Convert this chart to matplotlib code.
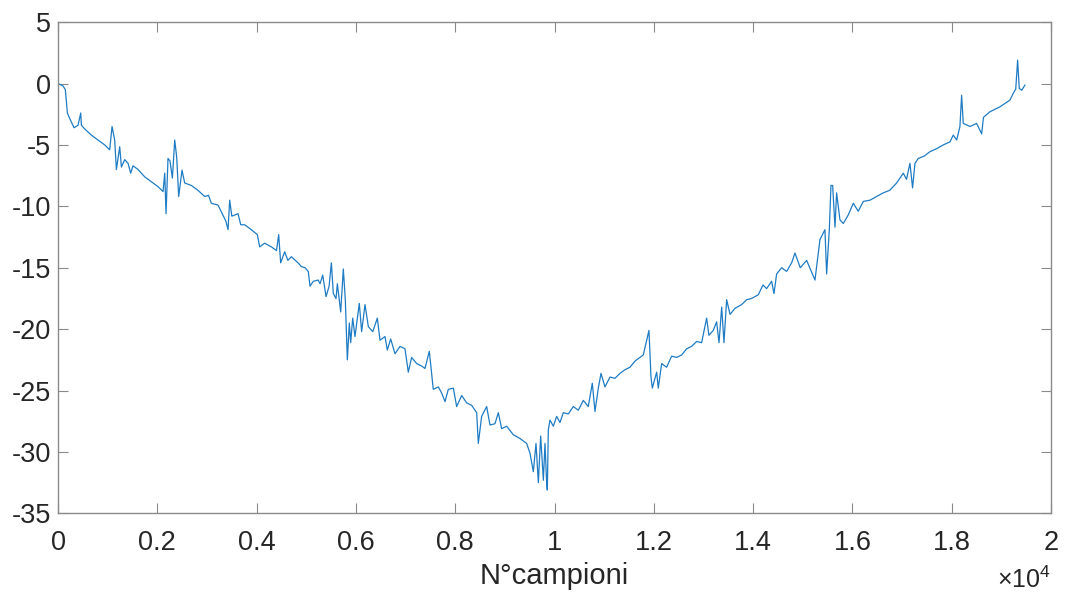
import matplotlib
matplotlib.use("Agg")
import matplotlib.pyplot as plt

# ---- data ----
samples = [0, 100, 147, 188, 235, 322, 403, 457, 470, 537, 671, 806, 940, 1040, 1088, 1141, 1175, 1210,
           1242, 1276, 1343, 1410, 1463, 1510, 1611, 1746, 1880, 2014, 2115, 2149, 2175, 2215, 2255, 2303,
           2350, 2390, 2430, 2497, 2551, 2685, 2820, 2954, 3030, 3088, 3222, 3337, 3380, 3424, 3457, 3500,
           3625, 3680, 3759, 3893, 4014, 4061, 4161, 4296, 4400, 4444, 4484, 4565, 4630, 4699, 4834, 4900,
           4975, 5040, 5075, 5142, 5240, 5277, 5331, 5398, 5460, 5505, 5545, 5599, 5626, 5693, 5746, 5786,
           5827, 5867, 5894, 5935, 5981, 6068, 6115, 6183, 6250, 6340, 6431, 6485, 6585, 6632, 6700, 6787,
           6888, 6988, 7055, 7122, 7223, 7323, 7391, 7478, 7558, 7660, 7727, 7794, 7861, 7962, 8029, 8130,
           8230, 8331, 8432, 8465, 8532, 8633, 8700, 8800, 8868, 8935, 9036, 9170, 9304, 9439, 9506, 9573,
           9627, 9674, 9721, 9775, 9808, 9841, 9855, 9875, 9909, 9976, 10043, 10110, 10177, 10278, 10378,
           10479, 10580, 10680, 10761, 10815, 10882, 10936, 11016, 11117, 11218, 11318, 11419, 11520, 11621,
           11721, 11788, 11856, 11902, 11943, 11970, 12057, 12090, 12158, 12258, 12359, 12460, 12560, 12661,
           12762, 12862, 12963, 13064, 13110, 13198, 13265, 13313, 13367, 13413, 13467, 13535, 13635, 13769,
           13870, 13970, 14104, 14200, 14272, 14373, 14420, 14474, 14575, 14675, 14776, 14843, 14950, 15078,
           15246, 15347, 15447, 15481, 15535, 15568, 15602, 15649, 15682, 15749, 15816, 15917, 16018, 16118,
           16219, 16353, 16488, 16622, 16750, 16891, 17025, 17090, 17159, 17212, 17260, 17327, 17450, 17562,
           17700, 17830, 17965, 18032, 18100, 18166, 18200, 18233, 18370, 18502, 18603, 18640, 18771, 18972,
           19173, 19240, 19290, 19328, 19361, 19410, 19475]
values = [0.0, -0.2, -0.5, -2.4, -2.85, -3.6, -3.4, -2.4, -3.4, -3.7, -4.2, -4.6, -5.0, -5.4, -3.5, -4.6, -7.0, -6.0,
          -5.15, -6.8, -6.2, -6.5, -7.3, -6.7, -7.0, -7.6, -8.0, -8.4, -8.8, -7.3, -10.6, -6.1, -6.3, -7.7,
          -4.6, -6.0, -9.2, -7.05, -8.1, -8.3, -8.7, -9.2, -9.1, -9.75, -9.9, -10.85, -11.2, -11.9, -9.5, -10.8,
          -10.6, -11.5, -11.5, -11.9, -12.3, -13.3, -13.0, -13.3, -13.6, -12.3, -14.6, -13.7, -14.4, -14.1, -14.6, -14.9,
          -15.0, -15.3, -16.5, -16.1, -16.0, -16.3, -15.6, -17.35, -16.5, -14.6, -17.1, -17.5, -16.3, -18.6, -15.1, -17.6,
          -22.5, -19.5, -21.1, -19.1, -20.6, -17.9, -20.2, -18.0, -19.8, -20.2, -19.1, -20.9, -20.6, -21.7, -20.8, -22.0,
          -21.4, -21.6, -23.5, -22.3, -22.8, -23.0, -23.2, -21.8, -24.9, -24.7, -25.2, -25.9, -24.9, -24.8, -26.3, -25.4,
          -26.0, -26.2, -26.8, -29.3, -27.1, -26.3, -27.8, -27.7, -26.8, -28.1, -27.9, -28.6, -28.9, -29.3, -30.1, -31.6,
          -29.3, -32.5, -28.7, -32.3, -29.3, -32.5, -33.1, -28.2, -27.4, -27.9, -27.1, -27.6, -26.8, -26.9, -26.3,
          -26.6, -25.8, -26.3, -24.4, -26.7, -24.8, -23.6, -24.7, -23.9, -24.0, -23.6, -23.3, -23.1, -22.6,
          -22.3, -22.1, -20.9, -20.1, -23.9, -24.8, -23.5, -24.8, -22.8, -23.1, -22.2, -22.3, -22.1, -21.6,
          -21.4, -21.0, -21.1, -19.1, -20.5, -20.1, -19.4, -21.1, -18.2, -21.1, -17.6, -18.8, -18.3, -18.0,
          -17.6, -17.5, -17.2, -16.4, -16.7, -16.1, -17.1, -15.5, -15.0, -15.3, -14.6, -13.8, -15.0, -14.4,
          -16.0, -12.7, -11.9, -15.5, -11.9, -8.3, -8.3, -11.7, -8.9, -11.1, -11.4, -10.7, -9.75, -10.4,
          -9.6, -9.5, -9.2, -8.9, -8.7, -8.1, -7.3, -7.8, -6.5, -8.5, -6.5, -6.1, -5.9, -5.55,
          -5.3, -5.0, -4.75, -4.2, -4.6, -3.5, -0.95, -3.25, -3.5, -3.25, -4.1, -2.75, -2.3, -1.9,
          -1.35, -0.8, -0.45, 1.9, -0.4, -0.55, -0.13]

x_ticks = [0, 2000, 4000, 6000, 8000, 10000, 12000, 14000, 16000, 18000, 20000]
x_ticklabels = ['0', '0.2', '0.4', '0.6', '0.8', '1', '1.2', '1.4', '1.6', '1.8', '2']
y_ticks = [-35, -30, -25, -20, -15, -10, -5, 0, 5]
y_ticklabels = ['-35', '-30', '-25', '-20', '-15', '-10', '-5', '0', '5']
x_label = 'N°campioni'

plt.rcParams['font.family'] = ['Liberation Sans', 'DejaVu Sans']
plt.rcParams['mathtext.fontset'] = 'custom'
plt.rcParams['mathtext.rm'] = 'Liberation Sans'

fig = plt.figure(figsize=(10.67, 5.97), dpi=100)
ax = fig.add_axes([0.0544, 0.140, 0.9306, 0.823])

ax.plot(samples, values, color='#1f7cc4', lw=0.9)

ax.set_xlim(0, 20000)
ax.set_ylim(-35, 5)
ax.set_xticks(x_ticks)
ax.set_xticklabels(x_ticklabels)
ax.set_yticks(y_ticks)
ax.set_yticklabels(y_ticklabels)

axis_col = '#8a8a8a'
text_col = '#262626'
for s in ax.spines.values():
    s.set_color(axis_col)
    s.set_linewidth(1.0)
ax.tick_params(direction='in', top=True, right=True, length=7, width=0.8,
               color=axis_col, labelcolor=text_col, labelsize=19.5)
ax.tick_params(axis='x', pad=12)
ax.tick_params(axis='y', pad=5)

ax.set_xlabel(x_label, fontsize=21, color=text_col, labelpad=4)
ax.text(1.0, -0.108, r'$\times\mathregular{10^{4}}$', transform=ax.transAxes,
        ha='right', va='top', fontsize=18, color=text_col)

fig.savefig('out.png', dpi=100)
